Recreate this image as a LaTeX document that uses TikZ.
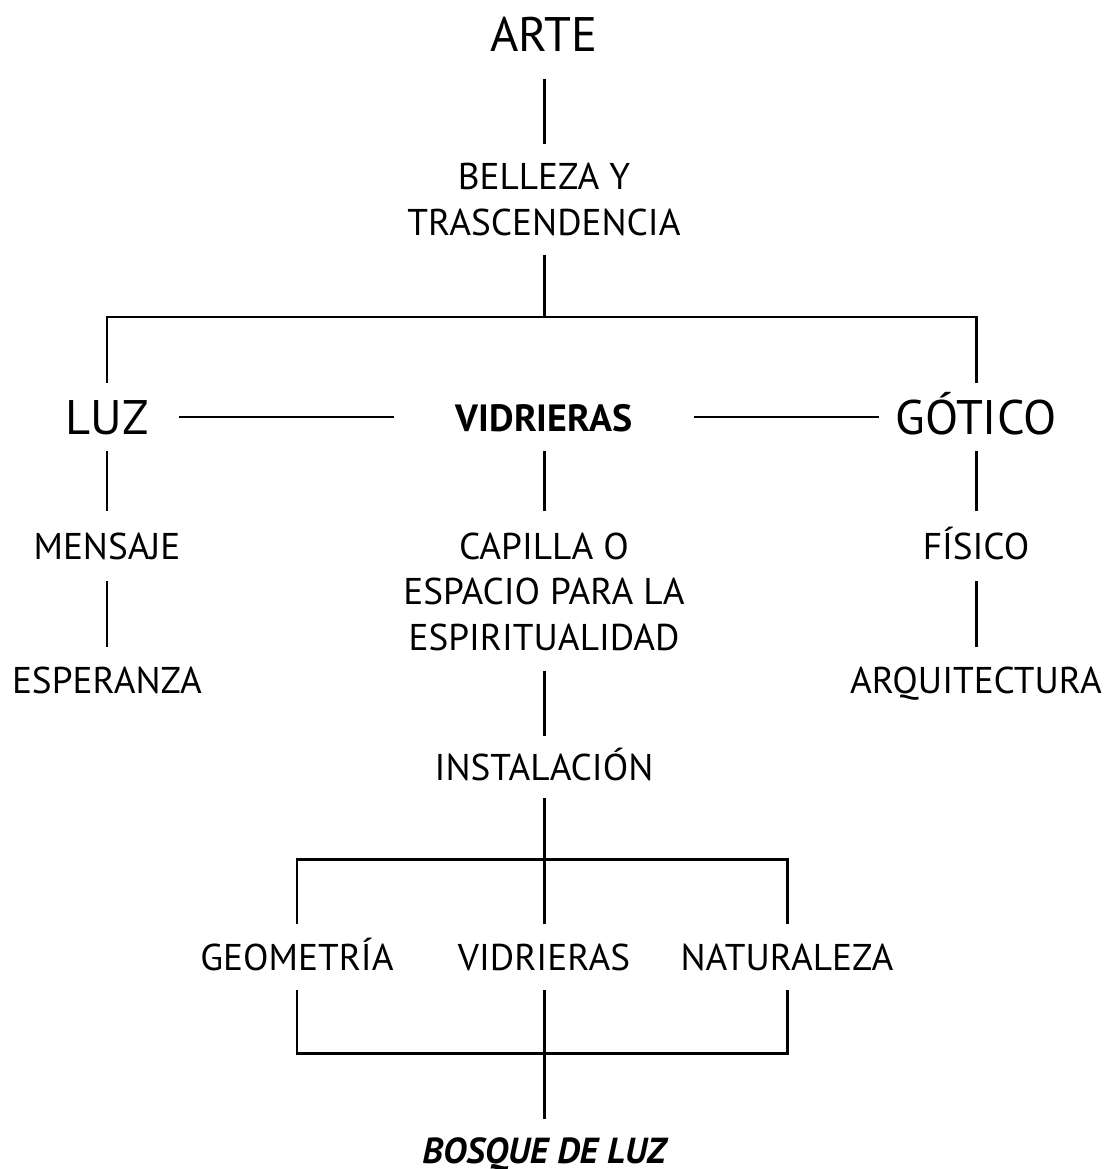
\documentclass[tikz,border=0pt]{standalone}
\usepackage{fontspec}
\setmainfont{PT Sans}
\usepackage{tikz}
\tikzstyle{txt}=[inner sep=0pt, outer xsep=0.2cm, outer ysep=0.2cm, anchor=base, text height=0.26cm, text depth=0pt, font=\fontsize{10.6}{12.9}\selectfont]
\tikzstyle{grande}=[txt, text height=0.34cm, font=\fontsize{13.8}{16}\selectfont]
\tikzstyle{negrita}=[txt, text height=0.25cm, font=\bfseries\fontsize{10.8}{12}\selectfont]
\tikzstyle{final}=[txt, text height=0.24cm, font=\bfseries\itshape\fontsize{10.3}{12}\selectfont]
\tikzstyle{arista}=[line width=0.85pt]

\begin{document}
\begin{tikzpicture}
            \useasboundingbox (0,0) rectangle (11.07,-11.69);
            % conceptos
            \node[grande, outer ysep=0.27cm] (arte) at (5.44,-0.52) {ARTE};
            \node[txt, align=center, text height=0.71cm] (bel) at (5.44,-2.35) {BELLEZA Y\\TRASCENDENCIA};
            \coordinate (j1) at (5.44,-3.17);

            \node[grande, outer xsep=0.3cm, outer ysep=0.17cm] (luz) at (1.07,-4.34) {LUZ};
            \node[negrita, outer xsep=0.62cm] (vid) at (5.44,-4.31) {VIDRIERAS};
            \node[grande, outer xsep=0.16cm, outer ysep=0.17cm] (got) at (9.76,-4.34) {GÓTICO};

            \node[txt, outer ysep=0.22cm] (men) at (1.07,-5.59) {MENSAJE};
            \node[txt] (esp) at (1.07,-6.93) {ESPERANZA};

            \node[txt, align=center, text height=1.18cm, outer ysep=0.21cm] (cap) at (5.44,-6.50) {CAPILLA O\\ESPACIO PARA LA\\ESPIRITUALIDAD};
            \node[txt, outer ysep=0.18cm] (ins) at (5.44,-7.80) {INSTALACIÓN};

            \node[txt, outer ysep=0.22cm] (fis) at (9.76,-5.59) {FÍSICO};
            \node[txt] (arq) at (9.76,-6.93) {ARQUITECTURA};

            \coordinate (j2) at (5.44,-8.59);
            \node[txt] (geo) at (2.97,-9.70) {GEOMETRÍA};
            \node[txt] (vid2) at (5.44,-9.70) {VIDRIERAS};
            \node[txt] (nat) at (7.87,-9.70) {NATURALEZA};
            \coordinate (j3) at (5.44,-10.53);
            \node[final] (bos) at (5.44,-11.63) {BOSQUE DE LUZ};

            % Aristas
            \draw[arista] (arte) -- (bel) -- (j1);
            \draw[arista] (luz) |- (j1) -| (got);
            \draw[arista] (luz.east) -- (luz.east -| vid.west);
            \draw[arista] (vid.east |- luz.east) -- (got.west);
            \draw[arista] (luz) -- (men) -- (esp);
            \draw[arista] (vid) -- (cap) -- (ins) -- (vid2);
            \draw[arista] (got) -- (fis) -- (arq);
            \draw[arista] (geo) |- (j2) -| (nat);
            \draw[arista] (geo) |- (j3) -| (nat);
            \draw[arista] (vid2) -- (bos);
\end{tikzpicture}
\end{document}
